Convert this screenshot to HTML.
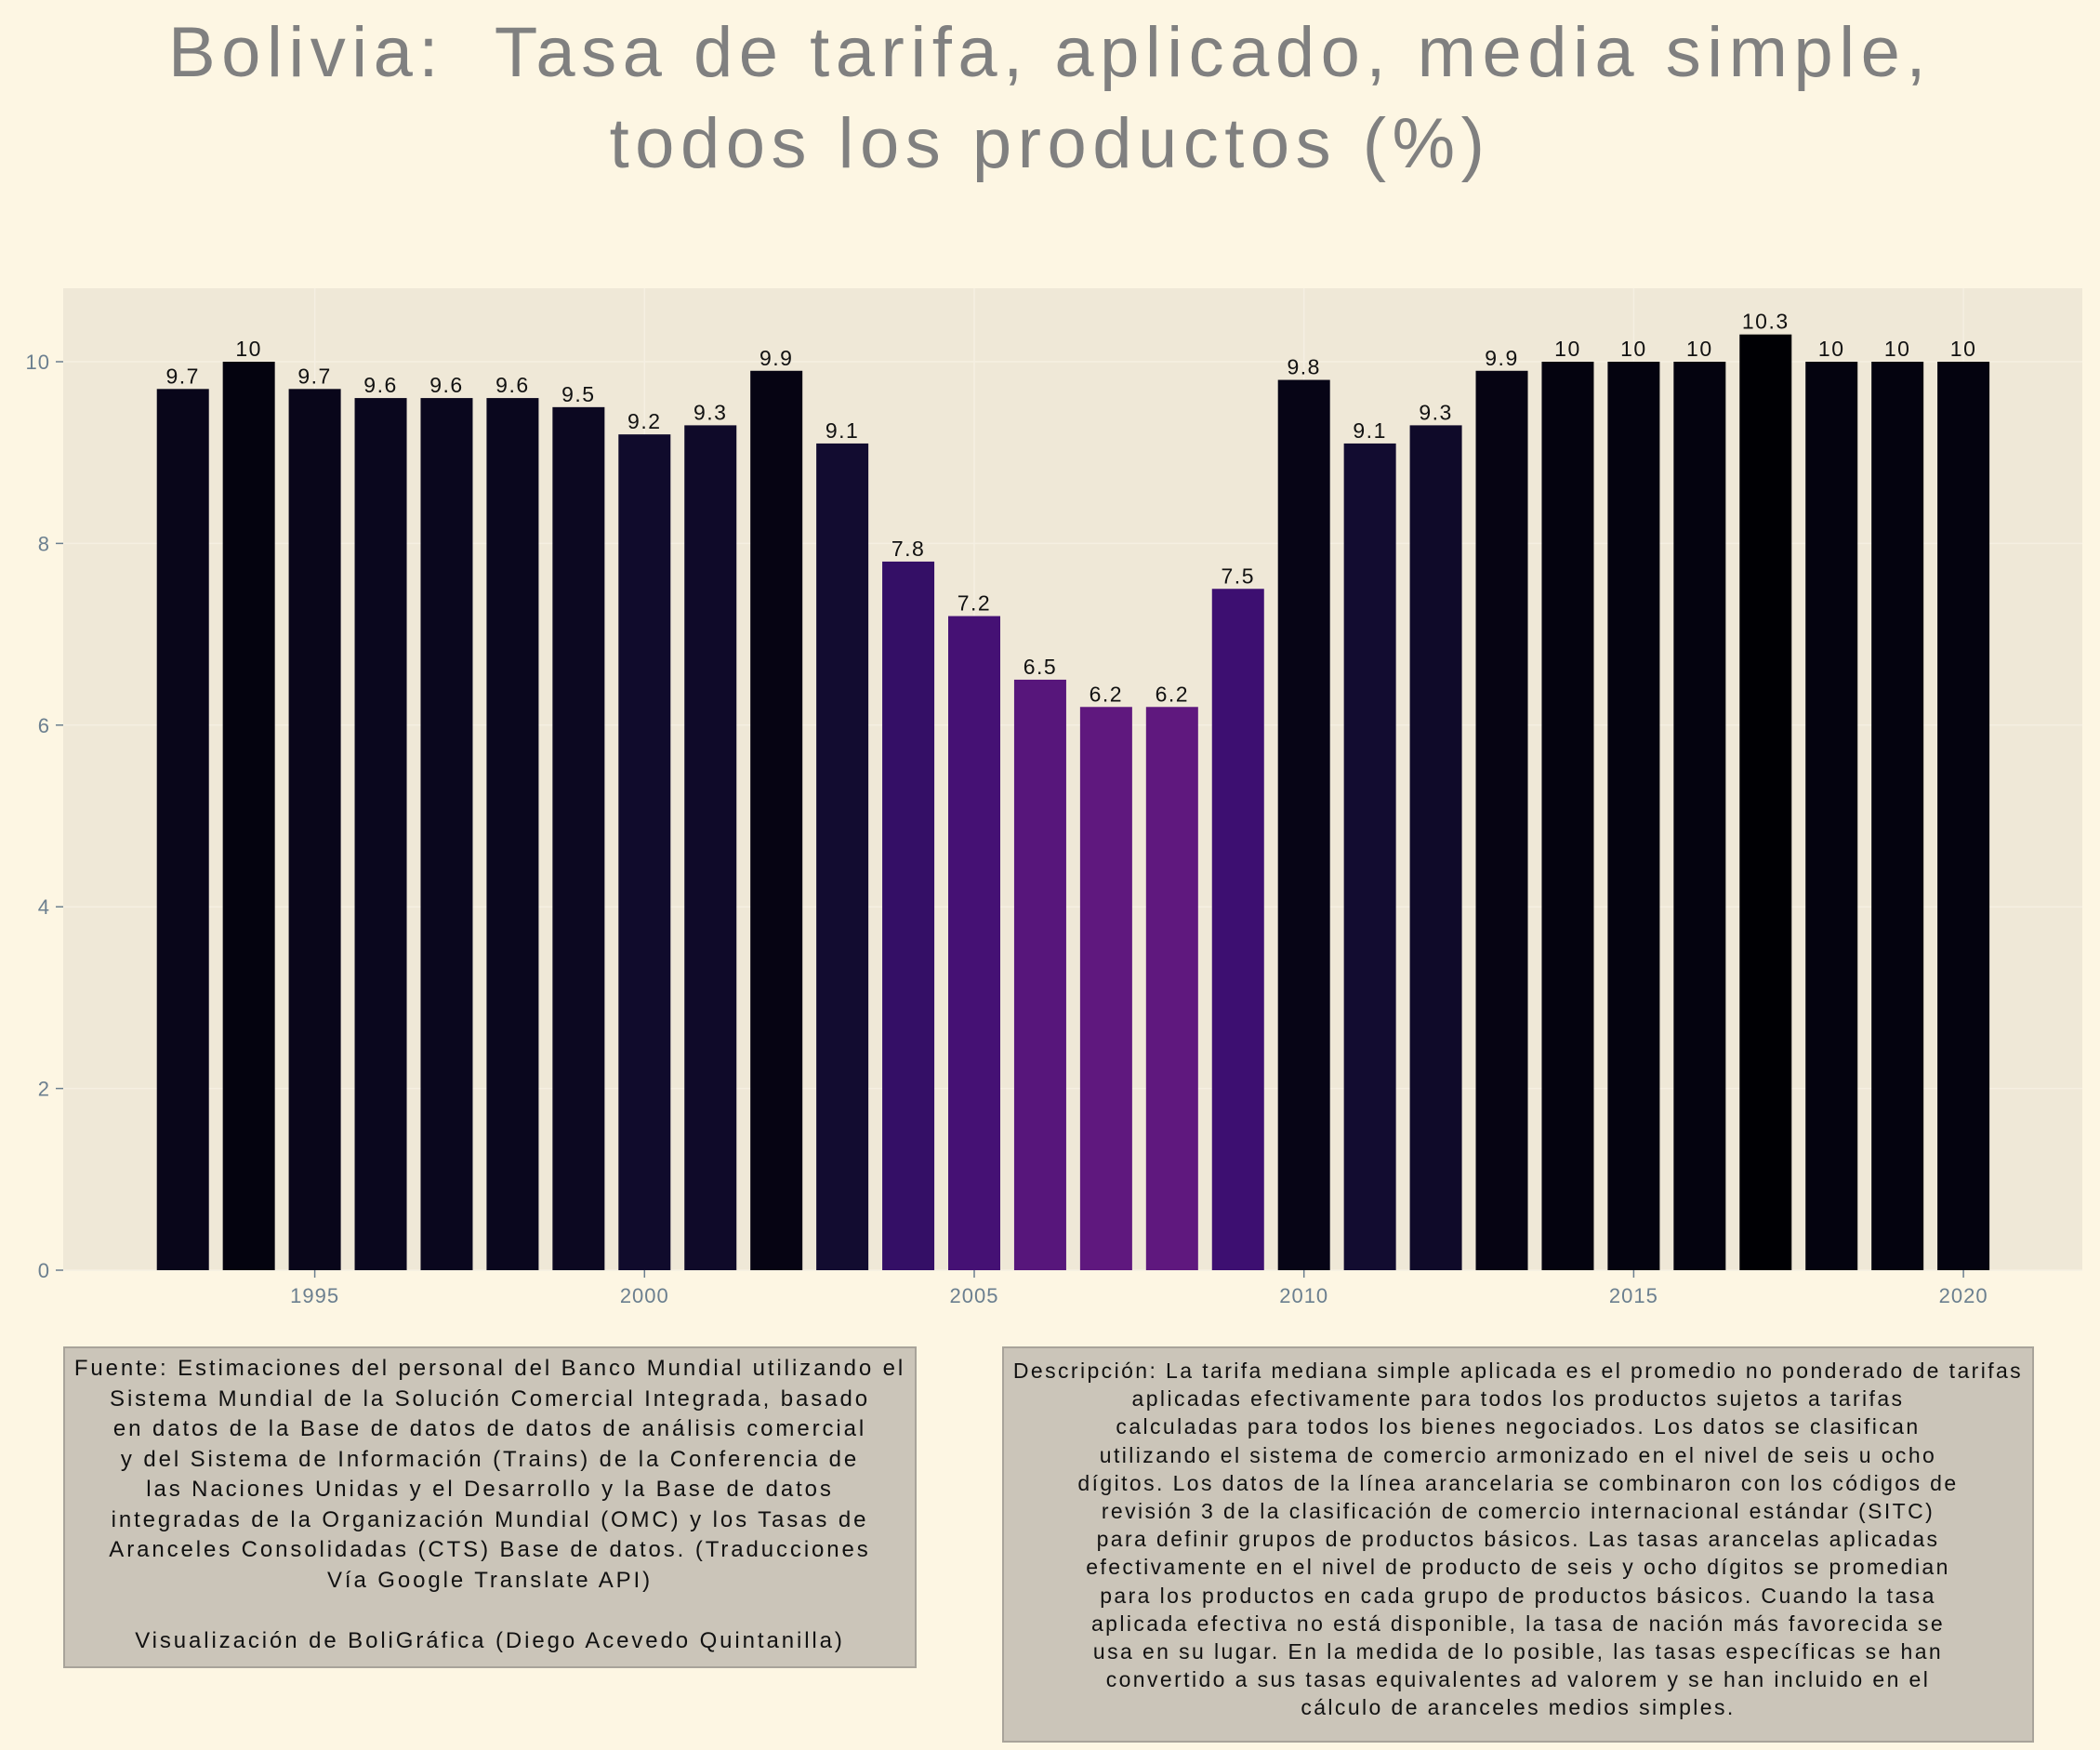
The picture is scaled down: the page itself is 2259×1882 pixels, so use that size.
<!DOCTYPE html>
<html><head><meta charset="utf-8">
<style>
html,body{margin:0;padding:0;background:#fdf6e3;}
body{width:2259px;height:1882px;position:relative;overflow:hidden;font-family:"Liberation Sans",sans-serif;}
.title{position:absolute;left:0;width:2259px;top:8px;text-align:center;color:#808080;font-size:76px;line-height:98px;letter-spacing:6.5px;}
.box{position:absolute;background:#cbc5b9;border:2px solid #a8a39a;box-sizing:border-box;text-align:center;color:#111;font-size:24px;line-height:32.5px;white-space:nowrap;letter-spacing:2.9px;}
</style></head>
<body>
<div class="title">Bolivia:&nbsp; Tasa de tarifa, aplicado, media simple,<br>todos los productos (%)</div>
<svg id="chart" width="2259" height="1420" style="position:absolute;left:0;top:0"></svg>
<div class="box" style="left:68px;top:1448px;width:918px;height:346px;padding-top:6px">Fuente: Estimaciones del personal del Banco Mundial utilizando el<br>Sistema Mundial de la Solución Comercial Integrada, basado<br>en datos de la Base de datos de datos de análisis comercial<br>y del Sistema de Información (Trains) de la Conferencia de<br>las Naciones Unidas y el Desarrollo y la Base de datos<br>integradas de la Organización Mundial (OMC) y los Tasas de<br>Aranceles Consolidadas (CTS) Base de datos. (Traducciones<br>Vía Google Translate API)<br><br>Visualización de BoliGráfica (Diego Acevedo Quintanilla)</div>
<div class="box" style="left:1078px;top:1448px;width:1110px;height:426px;padding-top:9px;font-size:23px;line-height:30.2px;letter-spacing:2.4px">Descripción: La tarifa mediana simple aplicada es el promedio no ponderado de tarifas<br>aplicadas efectivamente para todos los productos sujetos a tarifas<br>calculadas para todos los bienes negociados. Los datos se clasifican<br>utilizando el sistema de comercio armonizado en el nivel de seis u ocho<br>dígitos. Los datos de la línea arancelaria se combinaron con los códigos de<br>revisión 3 de la clasificación de comercio internacional estándar (SITC)<br>para definir grupos de productos básicos. Las tasas arancelas aplicadas<br>efectivamente en el nivel de producto de seis y ocho dígitos se promedian<br>para los productos en cada grupo de productos básicos. Cuando la tasa<br>aplicada efectiva no está disponible, la tasa de nación más favorecida se<br>usa en su lugar. En la medida de lo posible, las tasas específicas se han<br>convertido a sus tasas equivalentes ad valorem y se han incluido en el<br>cálculo de aranceles medios simples.</div>
<script>
const years = [1993,1994,1995,1996,1997,1998,1999,2000,2001,2002,2003,2004,2005,2006,2007,2008,2009,2010,2011,2012,2013,2014,2015,2016,2017,2018,2019,2020];
const values = [9.7,10,9.7,9.6,9.6,9.6,9.5,9.2,9.3,9.9,9.1,7.8,7.2,6.5,6.2,6.2,7.5,9.8,9.1,9.3,9.9,10,10,10,10.3,10,10,10];
const labels = ["9.7","10","9.7","9.6","9.6","9.6","9.5","9.2","9.3","9.9","9.1","7.8","7.2","6.5","6.2","6.2","7.5","9.8","9.1","9.3","9.9","10","10","10","10.3","10","10","10"];
const yTicks = [0,2,4,6,8,10];
const xTicks = [1995,2000,2005,2010,2015,2020];

const NS="http://www.w3.org/2000/svg";
const svg=document.getElementById('chart');
const L=68,R=2240,T=310,B=1366;
const x=y=>338.6+(y-1995)*70.94;
const yS=v=>B-v*97.7;
const bw=56;
function mk(tag,attrs){const e=document.createElementNS(NS,tag);for(const k in attrs)e.setAttribute(k,attrs[k]);svg.appendChild(e);return e;}
const bg=mk('rect',{x:L,y:T,width:R-L,height:B-T,fill:'#efe8d7'});


yTicks.forEach(t=>{
  const g=mk('line',{x1:L,x2:R,y1:yS(t),y2:yS(t),stroke:'#f5efe2','stroke-width':1.5});
  
  
  const tk=mk('line',{x1:L-8,x2:L,y1:yS(t),y2:yS(t),stroke:'#6b7f8f','stroke-width':1.5});
  
  
  const tx=mk('text',{x:L-14,y:yS(t)+8,'text-anchor':'end','font-size':22,fill:'#6b7f8f','font-family':'Liberation Sans, sans-serif','letter-spacing':1});
  tx.textContent=t;
  
  
});
xTicks.forEach(t=>{
  const g=mk('line',{x1:x(t),x2:x(t),y1:T,y2:B,stroke:'#f5efe2','stroke-width':1.5});
  
  
  const tk=mk('line',{x1:x(t),x2:x(t),y1:B,y2:B+8,stroke:'#6b7f8f','stroke-width':1.5});
  
  
  const tx=mk('text',{x:x(t),y:B+35,'text-anchor':'middle','font-size':22,fill:'#6b7f8f','font-family':'Liberation Sans, sans-serif','letter-spacing':1});
  tx.textContent=t;
  
  
});
const stops=[[0,[0,0,4]],[0.1,[20,14,54]],[0.2,[59,15,112]],[0.3,[95,24,126]]];
function color(v){
  const vmin=Math.min(...values),vmax=Math.max(...values);
  const t=(vmax-v)/(vmax-vmin||1)*0.3;
  for(let i=0;i<stops.length-1;i++){
    const [a,ca]=stops[i],[b,cb]=stops[i+1];
    if(t<=b+1e-9){const f=(t-a)/(b-a);return 'rgb('+ca.map((c,j)=>Math.round(c+(cb[j]-c)*f)).join(',')+')';}
  }
  return 'rgb(95,24,126)';
}
years.forEach((yr,i)=>{
  const v=values[i];
  const r=mk('rect',{x:x(yr)-bw/2,y:yS(v),width:bw,height:B-yS(v),fill:color(v)});
  
  
  const tx=mk('text',{x:x(yr),y:yS(v)-6,'text-anchor':'middle','font-size':23,fill:'#111','font-family':'Liberation Sans, sans-serif','letter-spacing':1.5});
  tx.textContent=labels[i];
  
  
});
</script>
</body></html>
